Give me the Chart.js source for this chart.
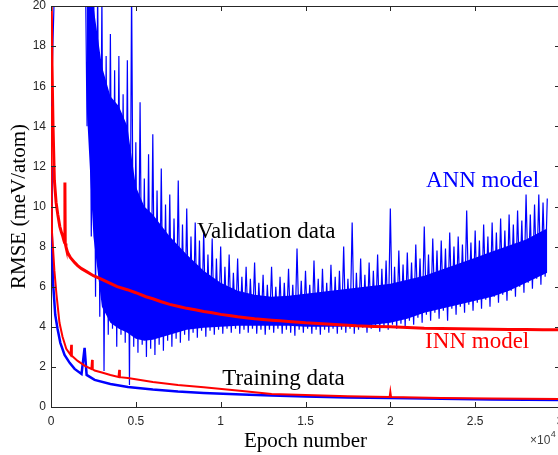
<!DOCTYPE html>
<html>
<head>
<meta charset="utf-8">
<script src="https://cdn.jsdelivr.net/npm/chart.js@4.4.0/dist/chart.umd.min.js"></script>
<style>
  html, body { margin: 0; padding: 0; background: #fff; overflow: hidden; }
  #wrap { width: 558px; height: 455px; overflow: hidden; }
  canvas { display: block; }
</style>
</head>
<body>
<div id="wrap"><canvas id="rmseChart" width="566" height="455"></canvas></div>
<script>
// Axis ticks
const xTickLabels = ['0', '0.5', '1', '1.5', '2', '2.5', '3'];
const yTickLabels = ['0', '2', '4', '6', '8', '10', '12', '14', '16', '18', '20'];

// INN model, validation RMSE (meV/atom) against epoch
const innValEpochs = [0, 60, 120, 200, 300, 400, 520, 620, 700, 760, 800, 820, 840, 880, 980, 1150,
  1400, 1570, 1800, 2100, 2500, 2900, 3400, 3900, 4500, 5000, 5600, 6000, 6500, 7000, 7600, 8000,
  8500, 9000, 9500, 10000, 10600, 11000, 11600, 12000, 13000, 13500, 14000, 15000, 16000, 17000,
  17500, 18000, 19000, 20000, 21000, 22000, 23000, 24000, 25000, 26000, 27000, 28000, 29000, 30000];
const innVal = [21, 17, 14, 11.3, 10.2, 9.6, 9.0, 8.7, 8.5, 8.3, 8.2, 11.2, 8.15, 8.0, 7.7, 7.45,
  7.2, 7.05, 6.9, 6.75, 6.55, 6.4, 6.2, 6.0, 5.85, 5.7, 5.5, 5.4, 5.25, 5.12, 5.0, 4.92,
  4.85, 4.76, 4.7, 4.62, 4.55, 4.5, 4.44, 4.4, 4.33, 4.3, 4.27, 4.2, 4.15, 4.1,
  4.08, 4.05, 4.02, 4.0, 3.96, 3.93, 3.92, 3.9, 3.89, 3.88, 3.87, 3.86, 3.85, 3.85];

// INN model, training RMSE
const innTrainEpochs = [0, 60, 200, 325, 500, 680, 900, 1150, 1190, 1230, 1570, 2000, 2380, 2420, 2460,
  2570, 3000, 3500, 3980, 4020, 4060, 4530, 6000, 7480, 9000, 11270, 13000, 15000, 17500, 19960,
  20000, 20040, 23000, 26000, 30000];
const innTrain = [15, 8.7, 6.8, 5.6, 4.2, 3.5, 2.9, 2.6, 3.1, 2.55, 2.3, 2.05, 1.9, 2.35, 1.88,
  1.82, 1.72, 1.6, 1.5, 1.85, 1.49, 1.45, 1.25, 1.1, 0.98, 0.8, 0.65, 0.6, 0.54, 0.5,
  0.75, 0.5, 0.45, 0.42, 0.4];

// ANN model, training RMSE
const annTrainEpochs = [0, 40, 120, 250, 385, 550, 800, 1100, 1390, 1800, 1980, 2100, 2570, 3500, 4530,
  6000, 7480, 9000, 11270, 13000, 15000, 17500, 20000, 23000, 26000, 30000];
const annTrain = [12, 8.7, 6.2, 4.6, 3.9, 3.2, 2.6, 2.2, 1.9, 1.65, 2.95, 1.6, 1.35, 1.15, 1.0,
  0.87, 0.77, 0.7, 0.62, 0.57, 0.52, 0.48, 0.45, 0.41, 0.38, 0.35];

// ANN model, validation RMSE: first epochs, then alternating peaks and troughs
const annValEarlyEpochs = [0, 80, 300];
const annValEarly = [13.5, 17, 24];
const annValStart = 2000;
const annValStep = 250;
const annValHigh = [24, 24, 24, 21, 20.5, 17.5, 18.6, 16.8, 17.5, 15.6, 17.3, 21, 13.2, 15.2, 11.4, 12.6,
  13.6, 10.8, 11.9, 10.1, 10.6, 9.4, 11.3, 9.1, 9.9, 8.5, 9.2, 8.3, 8.8, 7.6, 8.4, 7.4,
  8.0, 7.0, 7.6, 6.7, 7.4, 6.5, 7.0, 6.4, 7.2, 6.2, 6.6, 6.1, 7.0, 6.0, 6.5, 6.2,
  6.9, 6.1, 7.9, 6.3, 6.8, 6.1, 7.3, 6.4, 6.9, 6.2, 7.1, 6.5, 6.8, 8.0, 6.4, 9.2,
  6.7, 7.4, 6.6, 7.2, 6.8, 7.6, 6.9, 7.3, 9.9, 7.0, 7.8, 7.1, 7.7, 7.2, 8.1, 7.4,
  9.0, 7.6, 8.4, 7.8, 8.3, 7.9, 8.7, 8.0, 8.5, 8.1, 9.8, 8.2, 8.8, 8.3, 9.1, 8.5,
  9.2, 8.7, 9.4, 8.8, 9.6, 9.1, 9.8, 9.3, 10.6, 9.6, 10.1, 10.6, 10.2, 10.4];
const annValLow = [14, 8.5, 5.5, 4.5, 1.8, 3.6, 3.9, 3.0, 3.6, 3.2, 1.1, 3.0, 2.7, 3.1, 2.5, 2.9,
  2.6, 3.1, 2.8, 3.3, 3.0, 3.4, 3.2, 3.6, 3.3, 3.7, 3.45, 3.8, 3.5, 3.8, 3.6, 3.85,
  3.65, 3.9, 3.7, 3.9, 3.65, 3.85, 3.7, 3.9, 3.65, 3.85, 3.6, 3.85, 3.7, 3.9, 3.65, 3.85,
  3.7, 3.55, 3.85, 3.7, 3.9, 3.65, 3.85, 3.6, 3.85, 3.7, 3.9, 3.65, 3.85, 3.7, 3.9, 3.65,
  3.85, 3.95, 3.7, 3.9, 4.0, 3.75, 4.0, 3.85, 4.1, 3.9, 4.15, 4.0, 4.3, 4.1, 4.45, 4.2,
  4.6, 4.3, 4.7, 4.4, 4.8, 4.3, 4.9, 4.6, 5.0, 4.7, 5.1, 4.8, 5.2, 4.9, 5.35, 5.0,
  5.5, 5.2, 5.6, 5.3, 5.8, 5.5, 6.0, 5.7, 6.2, 5.9, 6.4, 6.1, 6.5];

// ANN model, validation RMSE: extent of the dense oscillation band
const annBandEpochs = [2100, 2500, 3000, 3500, 4000, 4500, 5000, 5500, 6000, 7000, 8000, 9000, 10000,
  11000, 12000, 13000, 14000, 15000, 16000, 17000, 18000, 19000, 20000, 21000, 22000, 23000, 24000,
  25000, 26000, 27000, 28000, 29000, 29250];
const annBandTop = [20, 20, 17, 15.5, 15, 14, 11, 10, 9.6, 8.5, 7.6, 6.8, 6.2,
  5.8, 5.6, 5.5, 5.55, 5.65, 5.75, 5.85, 5.95, 6.05, 6.15, 6.35, 6.55, 6.85, 7.15,
  7.45, 7.75, 8.05, 8.35, 8.8, 8.9];
const annBandBottom = [15, 8.5, 5, 4.2, 3.9, 3.7, 3.4, 3.3, 3.35, 3.6, 3.85, 3.95, 4.0,
  4.05, 4.05, 4.05, 4.05, 4.0, 4.0, 4.0, 4.05, 4.1, 4.2, 4.4, 4.7, 4.9, 5.1,
  5.3, 5.5, 5.8, 6.2, 6.6, 6.7];

// Text placed on the plot, anchored in data coordinates (left edge, baseline)
const curveLabels = [
  { text: 'Validation data', epoch: 8600, rmse: 8.45, color: '#000000' },
  { text: 'ANN model', epoch: 22100, rmse: 10.97, color: '#0000ff' },
  { text: 'INN model', epoch: 22050, rmse: 2.92, color: '#ff0000' },
  { text: 'Training data', epoch: 10100, rmse: 1.12, color: '#000000' }
];

function toPoints(xs, ys) {
  return xs.map((e, i) => ({ x: e, y: ys[i] }));
}

const annValPoints = toPoints(annValEarlyEpochs, annValEarly);
annValHigh.forEach((v, i) => {
  const e = annValStart + i * annValStep;
  annValPoints.push({ x: e, y: v });
  if (i < annValLow.length) annValPoints.push({ x: e + annValStep / 2, y: annValLow[i] });
});

const axisColor = '#262626';
const serif = '"Liberation Serif", "Times New Roman", serif';
const sans = '"Liberation Sans", Arial, Helvetica, sans-serif';

// box lines, inward tick marks, curve labels and the axis exponent
const framePlugin = {
  id: 'framePlugin',
  afterDraw(chart) {
    const { ctx, chartArea: area, scales: { x, y } } = chart;
    ctx.save();
    ctx.strokeStyle = axisColor;
    ctx.lineWidth = 1;
    ctx.beginPath();
    ctx.moveTo(area.left, area.top + 0.5);
    ctx.lineTo(area.right, area.top + 0.5);
    ctx.moveTo(area.right - 0.5, area.top);
    ctx.lineTo(area.right - 0.5, area.bottom);
    x.ticks.forEach(t => {
      const px = Math.round(x.getPixelForValue(t.value)) + 0.5;
      ctx.moveTo(px, area.bottom);
      ctx.lineTo(px, area.bottom - 5);
      ctx.moveTo(px, area.top);
      ctx.lineTo(px, area.top + 5);
    });
    y.ticks.forEach(t => {
      const py = Math.round(y.getPixelForValue(t.value)) + 0.5;
      ctx.moveTo(area.left, py);
      ctx.lineTo(area.left + 5, py);
      ctx.moveTo(area.right, py);
      ctx.lineTo(area.right - 5, py);
    });
    ctx.stroke();

    ctx.font = '23px ' + serif;
    ctx.textAlign = 'left';
    ctx.textBaseline = 'alphabetic';
    curveLabels.forEach(l => {
      ctx.fillStyle = l.color;
      ctx.fillText(l.text, x.getPixelForValue(l.epoch), y.getPixelForValue(l.rmse));
    });

    // x10^4 multiplier under the right end of the x axis
    ctx.fillStyle = '#404040';
    ctx.font = '12px ' + sans;
    const base = '\u00d710';
    const ex = 530;
    ctx.fillText(base, ex, 444);
    const w = ctx.measureText(base).width;
    ctx.font = '9px ' + sans;
    ctx.fillText('4', ex + w + 0.5, 437);
    ctx.restore();
  }
};

const lineDefaults = { pointRadius: 0, tension: 0, clip: 0, fill: false };

new Chart(document.getElementById('rmseChart'), {
  type: 'line',
  data: {
    datasets: [
      {
        label: 'INN validation',
        data: toPoints(innValEpochs, innVal),
        borderColor: '#ff0000',
        borderWidth: 3
      },
      {
        label: 'INN training',
        data: toPoints(innTrainEpochs, innTrain),
        borderColor: '#ff0000',
        borderWidth: 2
      },
      {
        label: 'ANN training',
        data: toPoints(annTrainEpochs, annTrain),
        borderColor: '#0000ff',
        borderWidth: 2.5
      },
      {
        label: 'ANN validation',
        data: annValPoints,
        borderColor: '#0000ff',
        borderWidth: 1.2
      },
      {
        label: 'ANN validation band',
        data: toPoints(annBandEpochs, annBandTop),
        borderWidth: 0,
        borderColor: 'rgba(0,0,0,0)',
        backgroundColor: '#0000ff',
        fill: '+1'
      },
      {
        label: 'ANN validation band bottom',
        data: toPoints(annBandEpochs, annBandBottom),
        borderWidth: 0,
        borderColor: 'rgba(0,0,0,0)'
      }
    ].map(d => Object.assign({}, lineDefaults, d))
  },
  options: {
    responsive: false,
    animation: false,
    events: [],
    layout: { padding: { top: 6, right: 6, left: 0, bottom: 0 } },
    plugins: {
      legend: { display: false },
      tooltip: { enabled: false }
    },
    scales: {
      x: {
        type: 'linear',
        min: 0,
        max: 30000,
        afterFit: s => { s.height = 48; s.paddingLeft = 0; s.paddingRight = 0; },
        grid: { display: false, drawTicks: false },
        border: { display: true, color: axisColor, width: 1 },
        ticks: {
          stepSize: 5000,
          padding: 7,
          maxRotation: 0,
          autoSkip: false,
          color: axisColor,
          font: { family: sans, size: 12 },
          callback: (v, i) => xTickLabels[i]
        },
        title: {
          display: true,
          text: 'Epoch number',
          color: '#000000',
          font: { family: serif, size: 21 },
          padding: { top: 0, bottom: 1 }
        }
      },
      y: {
        type: 'linear',
        min: 0,
        max: 20,
        afterFit: s => { s.width = 51; s.paddingTop = 0; s.paddingBottom = 0; },
        grid: { display: false, drawTicks: false },
        border: { display: true, color: axisColor, width: 1 },
        ticks: {
          stepSize: 2,
          padding: 5,
          color: axisColor,
          font: { family: sans, size: 12 },
          callback: (v, i) => yTickLabels[i]
        },
        title: {
          display: true,
          text: 'RMSE (meV/atom)',
          color: '#000000',
          font: { family: serif, size: 21 },
          padding: { top: 7, bottom: 0 }
        }
      }
    }
  },
  plugins: [framePlugin]
});
</script>
</body>
</html>
